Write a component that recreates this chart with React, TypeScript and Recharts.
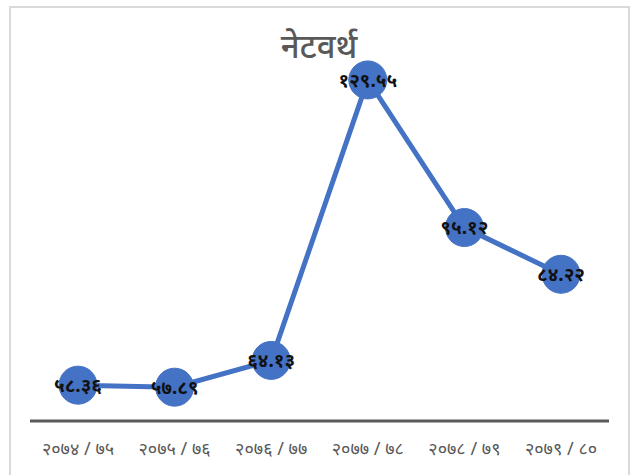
import React from 'react';
import { LineChart, Line, XAxis, YAxis, LabelList } from 'recharts';

// Fiscal years (Bikram Sambat) and net worth values
const years: string[] = ['२०७४ / ७५', '२०७५ / ७६', '२०७६ / ७७', '२०७७ / ७८', '२०७८ / ७९', '२०७९ / ८०'];
const netWorth: number[] = [58.36, 57.89, 64.13, 129.55, 95.12, 84.22];
const valueLabels: string[] = ['५८.३६', '५७.८९', '६४.१३', '१२९.५५', '९५.१२', '८४.२२'];

const data = years.map((year, i) => ({ year, value: netWorth[i], label: valueLabels[i] }));

const FONT = '"Noto Sans", "Noto Sans Devanagari", "Lohit Devanagari", sans-serif';
const BLUE = '#4472C4';
const GREY = '#595959';

export default function App() {
  return (
    <div style={{ position: 'absolute', left: 0, top: 0, width: 638, height: 475, background: '#fff', overflow: 'hidden', fontFamily: FONT }}>
      <div
        style={{
          position: 'absolute',
          left: 9,
          top: 6,
          width: 621,
          height: 480,
          border: '2px solid #d9d9d9',
          boxSizing: 'border-box',
        }}
      />
      <div
        style={{
          position: 'absolute',
          left: 0,
          width: 638,
          top: 24,
          textAlign: 'center',
          fontSize: 33,
          fontWeight: 500,
          color: GREY,
          fontFamily: FONT,
          lineHeight: '44px',
        }}
      >
        नेटवर्थ
      </div>
      <div style={{ position: 'absolute', left: 0, top: 0 }}>
        <LineChart
          width={638}
          height={475}
          data={data}
          margin={{ top: 78, right: 29, left: 30, bottom: 0 }}
        >
          <YAxis hide domain={[50, 130]} width={0} />
          <XAxis
            dataKey="year"
            height={54}
            padding={{ left: 48, right: 48 }}
            axisLine={{ stroke: GREY, strokeWidth: 3 }}
            tickLine={false}
            tickMargin={15}
            interval={0}
            tick={{ fill: GREY, fontSize: 18, fontFamily: FONT }}
          />
          <Line
            type="linear"
            dataKey="value"
            stroke={BLUE}
            strokeWidth={5}
            dot={{ r: 19, fill: BLUE, stroke: BLUE, strokeWidth: 1 }}
            activeDot={false}
            isAnimationActive={false}
          >
            <LabelList
              dataKey="label"
              position="center"
              fill="#111"
              fontSize={19}
              fontWeight={700}
              fontFamily={FONT}
            />
          </Line>
        </LineChart>
      </div>
    </div>
  );
}
